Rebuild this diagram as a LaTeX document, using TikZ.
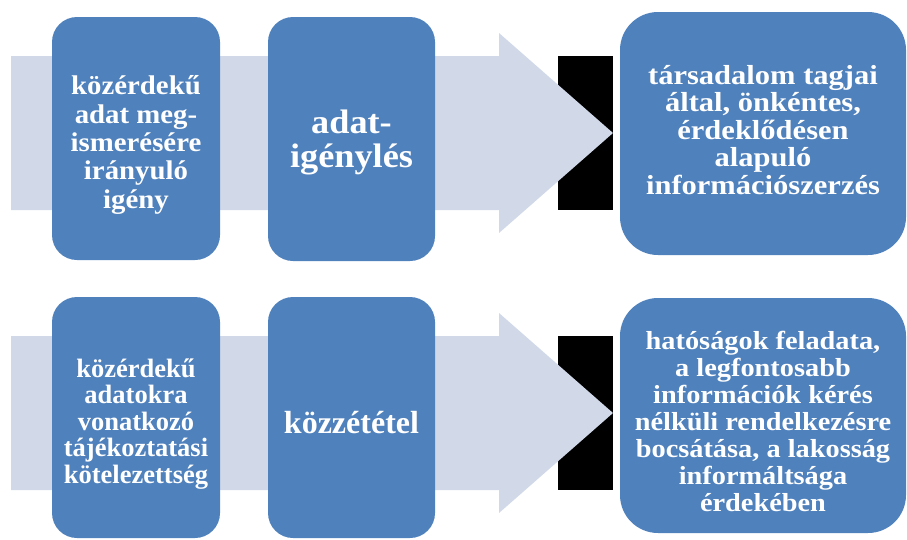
\documentclass[tikz,border=0pt]{standalone}
\usepackage{fontspec}
\setmainfont{Liberation Serif}
% slightly widened faces for the wider labels
\newfontfamily\serifwideA[FakeStretch=1.067]{Liberation Serif}
\newfontfamily\serifwideB[FakeStretch=1.11]{Liberation Serif}
\newfontfamily\serifwideC[FakeStretch=1.09]{Liberation Serif}
\begin{document}
\begin{tikzpicture}[x=1pt,y=-1pt,
  band/.style={fill=bandcol,draw=none},
  box/.style={fill=boxblue,draw=none,rounded corners=#1},
  box/.default=25pt,
  label/.style={text=white,align=center,inner sep=0pt}]
\definecolor{boxblue}{HTML}{4F81BD}
\definecolor{bandcol}{HTML}{D1D8E8}
\useasboundingbox (0,0) rectangle (907,539);

% ---- upper row ----
\fill[black] (558,56) rectangle (613,210);
\fill[band] (11,56) -- (499,56) -- (499,33) -- (613,133) -- (499,233)
  -- (499,210) -- (11,210) -- cycle;
\fill[box] (52,17) rectangle (220,260);
\node[label,font=\serifwideA\bfseries\fontsize{27}{28.3}\selectfont]
  (a1) at (136,145) {közérdekű\\adat meg-\\ismerésére\\irányuló\\igény};
\fill[box] (268,17) rectangle (435,261);
\node[label,font=\serifwideA\bfseries\fontsize{34}{34}\selectfont]
  (a2) at (351.5,142) {adat-\\igénylés};
\fill[box=38pt] (620,12) rectangle (906,255);
\node[label,font=\serifwideB\bfseries\fontsize{27.5}{27.5}\selectfont]
  (a3) at (763,130) {társadalom tagjai\\által, önkéntes,\\érdeklődésen\\alapuló\\információszerzés};

% ---- lower row ----
\fill[black] (558,336) rectangle (613,490);
\fill[band] (11,336) -- (499,336) -- (499,313) -- (613,413) -- (499,513)
  -- (499,490) -- (11,490) -- cycle;
\fill[box] (52,297) rectangle (220,538);
\node[label,font=\bfseries\fontsize{26.5}{26.5}\selectfont]
  (b1) at (136,424) {közérdekű\\adatokra\\vonatkozó\\tájékoztatási\\kötelezettség};
\fill[box] (268,297) rectangle (435,538);
\node[label,font=\bfseries\fontsize{32}{32}\selectfont]
  (b2) at (351.5,423) {közzététel};
\fill[box=38pt] (620,298) rectangle (906,533);
\node[label,font=\serifwideC\bfseries\fontsize{26}{27}\selectfont]
  (b3) at (763,421) {hatóságok feladata,\\a legfontosabb\\információk kérés\\nélküli rendelkezésre\\bocsátása, a lakosság\\informáltsága\\érdekében};
\end{tikzpicture}
\end{document}
